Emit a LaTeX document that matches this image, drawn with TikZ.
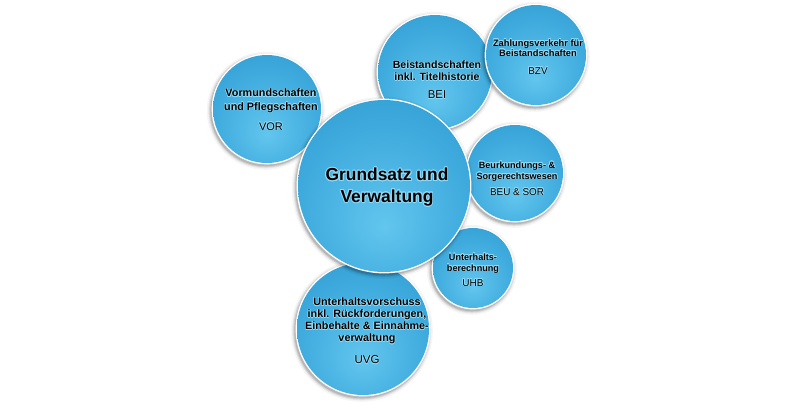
\documentclass[tikz,border=0pt]{standalone}
\usepackage{fontspec}
\setmainfont{Liberation Sans}
\usepackage[copies]{contour}
\contournumber{16}
\contourlength{0.5pt}
\definecolor{bubL}{HTML}{62C6EE}
\definecolor{bubM}{HTML}{42ADDF}
\definecolor{bubD}{HTML}{2593CB}
\definecolor{bubE}{HTML}{1A82BB}
\definecolor{glowc}{HTML}{8FDAF7}
\pgfdeclareradialshading{bubble}{\pgfpoint{0bp}{-12bp}}{color(0bp)=(bubL); color(22bp)=(bubM); color(46bp)=(bubD); color(64bp)=(bubE)}
\newcommand\bubble[3]{%
  \foreach \k/\o in {5/0.04,3.5/0.06,2.5/0.09,1.5/0.12}{\fill[black,opacity=\o] (#1-1.2,#2+1.8) circle[radius=#3+\k];}
  \fill[white] (#1,#2) circle[radius=#3+1.4];
  \shade[shading=bubble] (#1,#2) circle[radius=#3];
}
\newcommand\gl[1]{\contour{glowc}{#1}}
\newcommand\glm[1]{{\contourlength{0.9pt}\contour{glowc}{#1}}}
\begin{document}
\begin{tikzpicture}[x=1pt,y=-1pt,
  lbl/.style={align=center, inner sep=0pt, text=black}]
\useasboundingbox (0,0) rectangle (787,407);
\fill[white] (0,0) rectangle (787,407);
\bubble{267}{109}{54}
\bubble{435}{72}{57}
\bubble{536}{55}{50}
\bubble{515}{173}{48}
\bubble{473}{268}{40}
\bubble{363}{329}{66}
\bubble{384}{186}{86}
\node[lbl, font=\bfseries\fontsize{10.8}{13.5}\selectfont] (vor) at (271,110)
  {\gl{Vormundschaften}\\\gl{und Pflegschaften}\\[6.5pt]{\mdseries\fontsize{11}{13.5}\selectfont\gl{VOR}}};
\node[lbl, font=\bfseries\fontsize{10.6}{12}\selectfont] (bei) at (437,80)
  {\gl{Beistandschaften}\\\gl{inkl. Titelhistorie}\\[6pt]{\mdseries\fontsize{11.4}{12}\selectfont\gl{BEI}}};
\node[lbl, font=\bfseries\fontsize{9.3}{10}\selectfont] (bzv) at (538,57)
  {\gl{Zahlungsverkehr für}\\\gl{Beistandschaften}\\[8pt]{\mdseries\fontsize{9.9}{10}\selectfont\gl{BZV}}};
\node[lbl, font=\bfseries\fontsize{9.1}{11}\selectfont] (beu) at (517,178.5)
  {\gl{Beurkundungs- \&}\\\gl{Sorgerechtswesen}\\[5pt]{\mdseries\fontsize{9.9}{11}\selectfont\gl{BEU \& SOR}}};
\node[lbl, font=\bfseries\fontsize{9.1}{11}\selectfont] (uhb) at (473,270)
  {\gl{Unterhalts-}\\\gl{berechnung}\\[4pt]{\mdseries\fontsize{10}{11}\selectfont\gl{UHB}}};
\node[lbl, font=\bfseries\fontsize{10.8}{12}\selectfont] (uvg) at (367,331)
  {\gl{Unterhaltsvorschuss}\\\gl{inkl. Rückforderungen,}\\\gl{Einbehalte \& Einnahme-}\\\gl{verwaltung}\\[10pt]{\mdseries\fontsize{11.5}{12}\selectfont\gl{UVG}}};
\node[lbl, font=\bfseries\fontsize{17.4}{21.5}\selectfont] (main) at (387,187.5)
  {\glm{Grundsatz und}\\\glm{Verwaltung}};
\end{tikzpicture}
\end{document}
